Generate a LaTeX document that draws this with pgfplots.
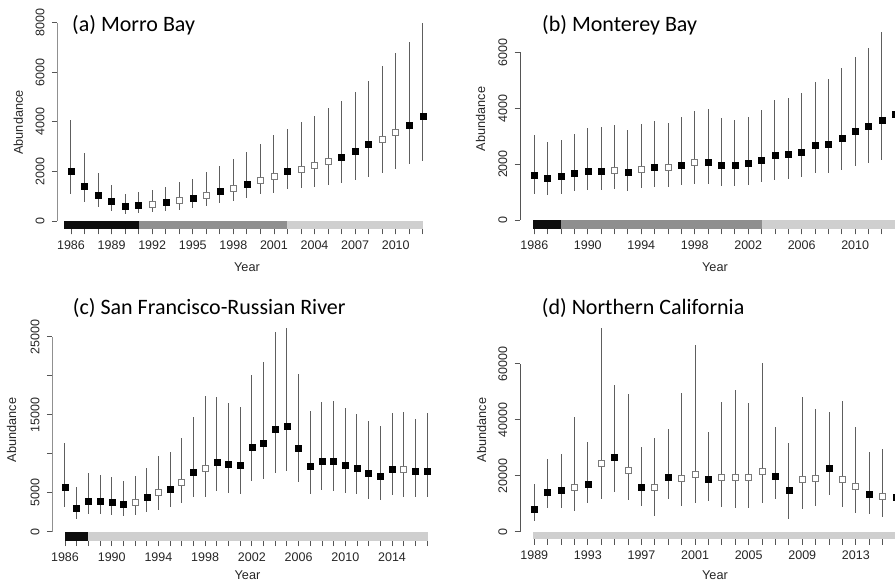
\documentclass[border=0pt]{standalone}
\usepackage{pgfplots}
\pgfplotsset{compat=1.18}
\usepackage{pgfplotstable}
\usepackage{fontspec}
\setmainfont{Liberation Sans}
\newfontfamily\titlefont{Carlito}
\definecolor{ebar}{HTML}{5E5E5E}
\definecolor{opencol}{HTML}{7A7A7A}
\definecolor{axiscol}{HTML}{555555}
\definecolor{stripA}{HTML}{0D0D0D}
\definecolor{stripB}{HTML}{8F8F8F}
\definecolor{stripC}{HTML}{CFCFCF}

\pgfplotstableread{
x y lo hi t
1986 2017 1076 4074 f
1987 1412 780 2729 f
1988 1035 578 1923 f
1989 780 417 1452 f
1990 578 296 1089 f
1991 618 323 1156 f
1992 672 363 1250 o
1993 753 403 1358 f
1994 820 444 1560 o
1995 928 511 1694 f
1996 1049 618 1990 o
1997 1210 713 2232 f
1998 1318 807 2501 o
1999 1492 914 2797 f
2000 1654 1076 3106 o
2001 1788 1143 3469 o
2002 2003 1277 3711 f
2003 2097 1318 3993 o
2004 2232 1385 4235 o
2005 2420 1439 4558 o
2006 2555 1519 4840 f
2007 2823 1654 5217 f
2008 3079 1788 5647 f
2009 3294 1923 6252 o
2010 3563 2084 6790 o
2011 3845 2286 7220 f
2012 4208 2420 7973 f
}\tA

\pgfplotstableread{
x y lo hi t
1986 1595 929 3024 f
1987 1500 893 2774 f
1988 1560 929 2857 f
1989 1667 1024 3083 f
1990 1738 1060 3286 f
1991 1762 1060 3321 f
1992 1774 1107 3381 o
1993 1726 1036 3202 f
1994 1810 1131 3429 o
1995 1905 1179 3524 f
1996 1893 1167 3476 o
1997 1976 1238 3679 f
1998 2060 1286 3917 o
1999 2083 1286 3976 f
2000 1976 1202 3655 f
2001 1976 1226 3583 f
2002 2036 1262 3702 f
2003 2143 1345 3940 f
2004 2321 1440 4298 f
2005 2345 1476 4357 f
2006 2440 1524 4536 f
2007 2679 1667 4952 f
2008 2702 1667 5048 f
2009 2944 1798 5429 f
2010 3190 1940 5845 f
2011 3345 2036 6167 f
2012 3571 2131 6715 f
2013 3786 2250 7300 f
}\tB

\pgfplotstableread{
x y lo hi t
1986 5769 3120 11325 f
1987 2991 1581 5769 f
1988 3889 2265 7479 f
1989 3889 2265 7265 f
1990 3761 2179 6966 f
1991 3547 1966 6453 f
1992 3761 2137 7179 o
1993 4444 2521 8205 f
1994 5000 2778 9701 o
1995 5513 3120 10171 f
1996 6325 3718 12051 o
1997 7650 4487 14658 f
1998 8077 4487 17393 o
1999 8932 5171 17222 f
2000 8675 5000 16496 f
2001 8504 4872 15940 f
2002 10855 6496 20085 f
2003 11325 6709 21709 f
2004 13205 7564 25556 f
2005 13590 7778 26154 f
2006 10684 6325 20171 f
2007 8419 4786 15513 f
2008 9103 5342 16624 f
2009 9017 5256 16752 f
2010 8504 5000 15812 f
2011 8120 4786 15043 f
2012 7521 4231 14188 f
2013 7179 4060 13547 f
2014 7991 4658 15171 f
2015 7991 4487 15385 o
2016 7778 4487 14444 f
2017 7821 4487 15171 f
}\tC

\pgfplotstableread{
x y lo hi t
1989 7976 3810 16905 f
1990 14048 8333 25833 f
1991 14762 8571 27738 f
1992 15833 7381 41071 o
1993 17143 10119 32143 f
1994 24405 11667 72857 o
1995 26548 14286 52381 f
1996 21786 11310 49167 o
1997 15833 9167 30119 f
1998 15952 5595 33571 o
1999 19524 11548 36667 f
2000 18929 9167 49405 o
2001 20476 10357 66667 o
2002 18810 10952 35476 f
2003 19286 8690 46429 o
2004 19524 8333 50595 o
2005 19524 8571 45833 o
2006 21667 10357 60119 o
2007 20000 11667 37262 f
2008 14881 4524 31786 f
2009 18690 8095 47976 o
2010 19167 9167 43810 o
2011 22738 13095 42857 f
2012 18810 8690 46667 o
2013 16071 6786 37500 o
2014 13452 6310 28333 f
2015 12738 5357 29405 o
2016 12262 6000 26000 f
}\tD

\pgfplotsset{
  rstyle/.style={
    scale only axis, anchor=south west,
    axis lines*=left, axis line style={draw=none},
    enlargelimits=false, clip=true,
    scaled x ticks=false, scaled y ticks=false,
    tick align=outside,
    major tick length=5.5pt, minor tick length=5.5pt,
    every tick/.style={axiscol, line width=0.8pt},
    tick label style={font=\fontsize{12.5}{14}\selectfont, text=black!85},
    /pgf/number format/assume math mode=true,
    /pgf/number format/1000 sep={},
    yticklabel style={rotate=90, anchor=south, inner sep=1pt, yshift=6pt},
    xticklabel style={inner sep=1pt, yshift=-5pt},
  },
  dataplot/.style={
    scatter, only marks, scatter src=explicit symbolic,
    scatter/classes={
      f={mark=square*, draw=black, fill=black},
      o={mark=square*, draw=opencol, fill=white, line width=0.8pt}},
    mark size=3pt,
    error bars/.cd, y dir=both, y explicit, error mark=none,
    error bar style={draw=ebar, line width=1pt, solid},
  },
}

\begin{document}
\begin{tikzpicture}
\useasboundingbox (0pt,0pt) rectangle (895pt,587pt);
\clip (0pt,0pt) rectangle (895pt,587pt);

% ---------- (a) Morro Bay ----------
\begin{axis}[rstyle, at={(57.3pt,358pt)}, width=379pt, height=214pt,
  xmin=1984.988, xmax=2013, ymin=-322.7, ymax=8310,
  xtick={1986,1989,...,2010}, minor xtick={1986,...,2012},
  ytick={0,2000,...,8000}]
\addplot[draw=none, fill=stripA, forget plot] coordinates {(1985.45,-322.7) (1991,-322.7) (1991,0) (1985.45,0)} -- cycle;
\addplot[draw=none, fill=stripB, forget plot] coordinates {(1991,-322.7) (2002,-322.7) (2002,0) (1991,0)} -- cycle;
\addplot[draw=none, fill=stripC, forget plot] coordinates {(2002,-322.7) (2012.05,-322.7) (2012.05,0) (2002,0)} -- cycle;
\draw[axiscol, line width=0.8pt] (axis cs:1984.988,0) -- (axis cs:1984.988,8000);
\addplot[dataplot] table[x=x, y=y, meta=t, y error plus expr=\thisrow{hi}-\thisrow{y}, y error minus expr=\thisrow{y}-\thisrow{lo}] {\tA};
\end{axis}

% ---------- (b) Monterey Bay ----------
\begin{axis}[rstyle, at={(520pt,358pt)}, width=383.3pt, height=224pt,
  xmin=1984.93, xmax=2013.6, ymin=-322, ymax=7692,
  xtick={1986,1990,...,2010}, minor xtick={1986,...,2013},
  ytick={0,2000,...,6000}]
\addplot[draw=none, fill=stripA, forget plot] coordinates {(1985.93,-322) (1988,-322) (1988,0) (1985.93,0)} -- cycle;
\addplot[draw=none, fill=stripB, forget plot] coordinates {(1988,-322) (2003,-322) (2003,0) (1988,0)} -- cycle;
\addplot[draw=none, fill=stripC, forget plot] coordinates {(2003,-322) (2013.6,-322) (2013.6,0) (2003,0)} -- cycle;
\draw[axiscol, line width=0.8pt] (axis cs:1984.93,0) -- (axis cs:1984.93,6000);
\addplot[dataplot] table[x=x, y=y, meta=t, y error plus expr=\thisrow{hi}-\thisrow{y}, y error minus expr=\thisrow{y}-\thisrow{lo}] {\tB};
\end{axis}

% ---------- (c) San Francisco-Russian River ----------
\begin{axis}[rstyle, at={(52.3pt,46.3pt)}, width=380.6pt, height=218.7pt,
  xmin=1984.913, xmax=2017.5, ymin=-1152, ymax=26885,
  xtick={1986,1990,...,2014}, minor xtick={1986,...,2017},
  ytick={0,5000,...,25000}, yticklabels={0,5000,,15000,,25000}]
\addplot[draw=none, fill=stripA, forget plot] coordinates {(1986,-1152) (1988,-1152) (1988,0) (1986,0)} -- cycle;
\addplot[draw=none, fill=stripC, forget plot] coordinates {(1988,-1152) (2017.1,-1152) (2017.1,0) (1988,0)} -- cycle;
\draw[axiscol, line width=0.8pt] (axis cs:1984.913,0) -- (axis cs:1984.913,25000);
\addplot[dataplot] table[x=x, y=y, meta=t, y error plus expr=\thisrow{hi}-\thisrow{y}, y error minus expr=\thisrow{y}-\thisrow{lo}] {\tC};
\end{axis}

% ---------- (d) Northern California ----------
\begin{axis}[rstyle, at={(520pt,47.7pt)}, width=384.1pt, height=221.3pt,
  xmin=1987.933, xmax=2016.6, ymin=-2714, ymax=76321,
  xtick={1989,1993,...,2013}, minor xtick={1989,...,2016},
  ytick={0,20000,...,60000}]
\addplot[draw=none, fill=stripC, forget plot] coordinates {(1988.9,-2714) (2016.6,-2714) (2016.6,0) (1988.9,0)} -- cycle;
\draw[axiscol, line width=0.8pt] (axis cs:1987.933,0) -- (axis cs:1987.933,60000);
\addplot[dataplot] table[x=x, y=y, meta=t, y error plus expr=\thisrow{hi}-\thisrow{y}, y error minus expr=\thisrow{y}-\thisrow{lo}] {\tD};
\end{axis}

% ---------- titles and labels ----------
\node[anchor=base west, inner sep=0pt, font=\titlefont\fontsize{22}{24}\selectfont] at (72pt,555pt) {(a) Morro Bay};
\node[anchor=base west, inner sep=0pt, font=\titlefont\fontsize{22}{24}\selectfont] at (542pt,555pt) {(b) Monterey Bay};
\node[anchor=base west, inner sep=0pt, font=\titlefont\fontsize{22}{24}\selectfont] at (72.7pt,272pt) {(c) San Francisco-Russian River};
\node[anchor=base west, inner sep=0pt, font=\titlefont\fontsize{22}{24}\selectfont] at (541.7pt,272pt) {(d) Northern California};

\node[rotate=90, inner sep=0pt, font=\fontsize{12.7}{14}\selectfont, text=black!85] at (18.3pt,464.5pt) {Abundance};
\node[rotate=90, inner sep=0pt, font=\fontsize{12.7}{14}\selectfont, text=black!85] at (480.5pt,468pt) {Abundance};
\node[rotate=90, inner sep=0pt, font=\fontsize{12.7}{14}\selectfont, text=black!85] at (11.7pt,157pt) {Abundance};
\node[rotate=90, inner sep=0pt, font=\fontsize{12.7}{14}\selectfont, text=black!85] at (481.7pt,157pt) {Abundance};

\node[inner sep=0pt, font=\fontsize{12.7}{14}\selectfont, text=black!85] at (247pt,320pt) {Year};
\node[inner sep=0pt, font=\fontsize{12.7}{14}\selectfont, text=black!85] at (715pt,320pt) {Year};
\node[inner sep=0pt, font=\fontsize{12.7}{14}\selectfont, text=black!85] at (247.5pt,12pt) {Year};
\node[inner sep=0pt, font=\fontsize{12.7}{14}\selectfont, text=black!85] at (715pt,12pt) {Year};
\end{tikzpicture}
\end{document}
